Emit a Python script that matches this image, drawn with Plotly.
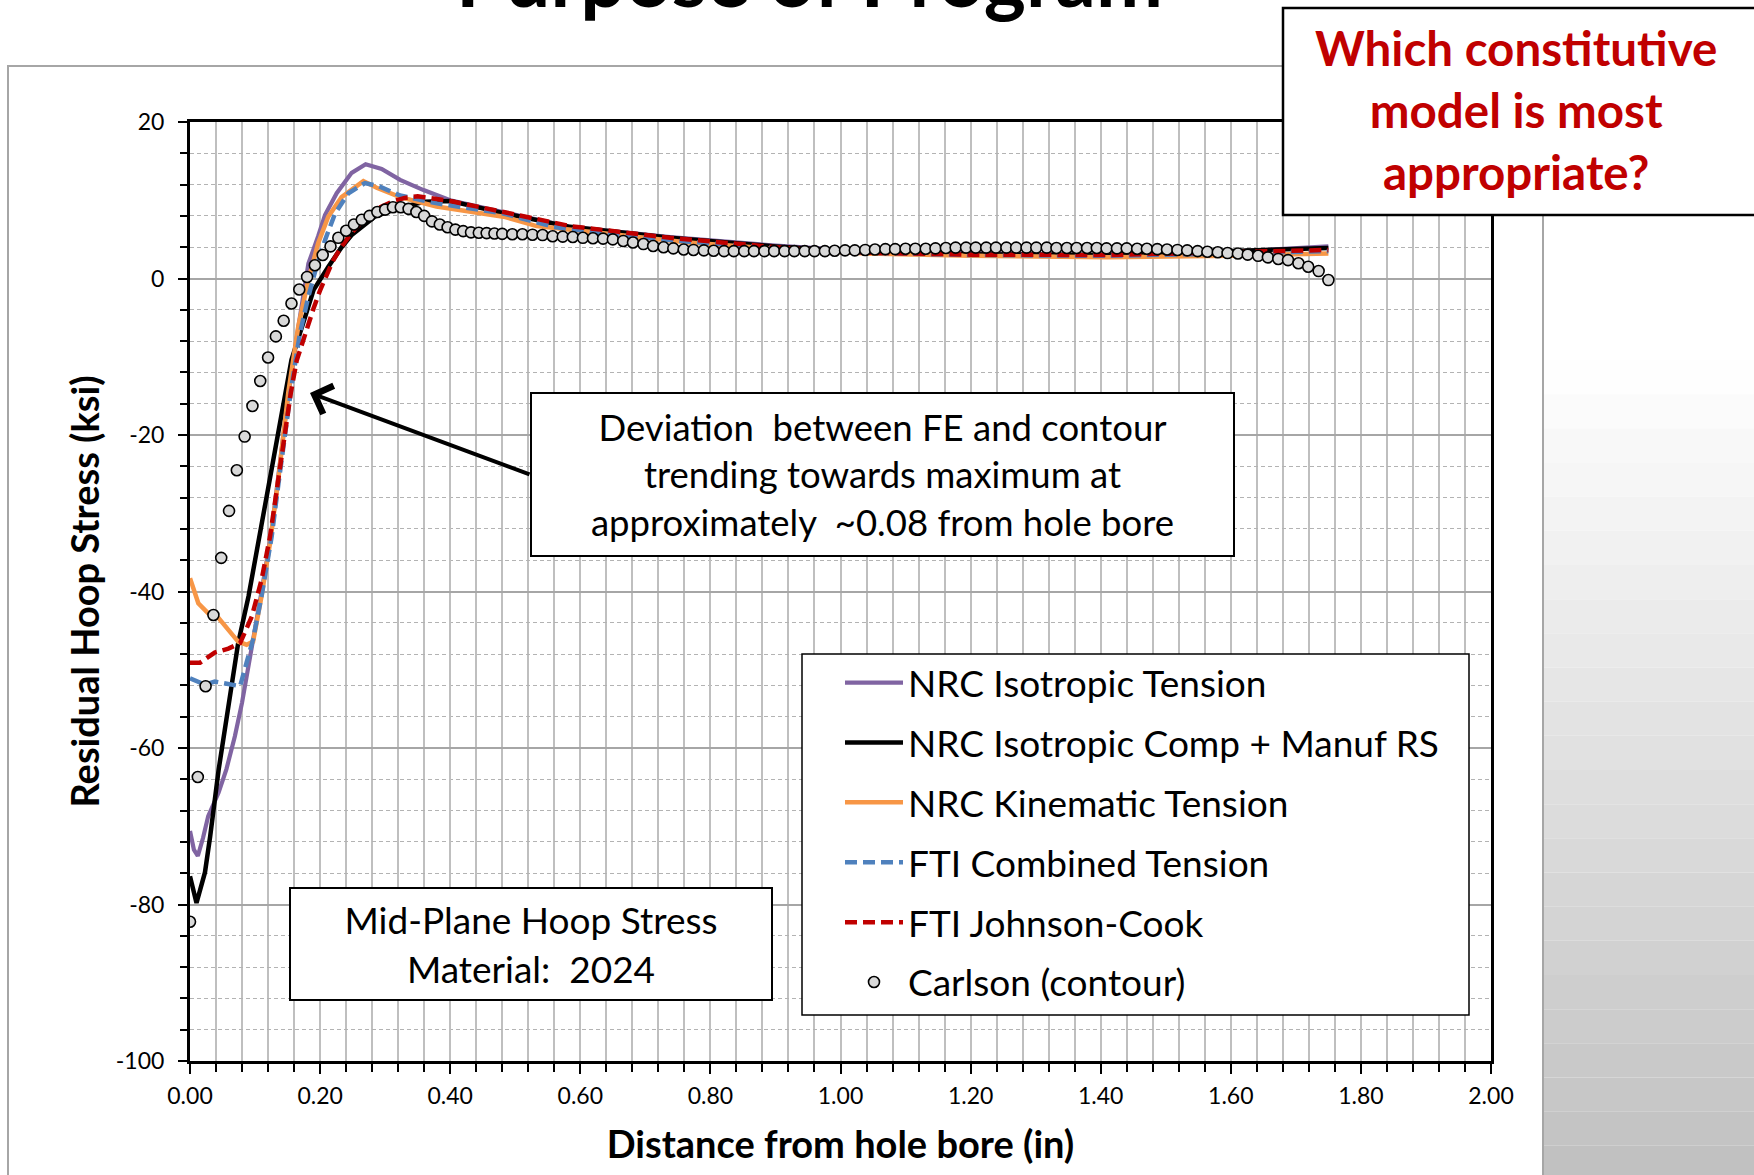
import plotly.graph_objects as go

# ---------------- DATA ----------------
carlson_x = [0.000, 0.012, 0.024, 0.036, 0.048, 0.060, 0.072, 0.084, 0.096, 0.108,
             0.120, 0.132, 0.144, 0.156, 0.168, 0.180, 0.192, 0.204, 0.216, 0.228,
             0.240, 0.252, 0.264, 0.276, 0.288, 0.300, 0.312, 0.324, 0.336, 0.348,
             0.360, 0.372, 0.384, 0.396, 0.408, 0.420, 0.432, 0.444, 0.456, 0.468,
             0.480, 0.4955, 0.511, 0.5265, 0.542, 0.5575, 0.573, 0.5885, 0.604, 0.6195,
             0.635, 0.650, 0.666, 0.681, 0.697, 0.712, 0.728, 0.743, 0.759, 0.774,
             0.790, 0.805, 0.821, 0.836, 0.852, 0.867, 0.883, 0.898, 0.914, 0.929,
             0.945, 0.960, 0.976, 0.991, 1.007, 1.022, 1.038, 1.053, 1.069, 1.084,
             1.100, 1.115, 1.131, 1.146, 1.162, 1.177, 1.193, 1.208, 1.224, 1.239,
             1.255, 1.270, 1.286, 1.301, 1.317, 1.332, 1.348, 1.363, 1.379, 1.394,
             1.409, 1.425, 1.440, 1.456, 1.471, 1.487, 1.502, 1.518, 1.533, 1.549,
             1.564, 1.580, 1.595, 1.611, 1.626, 1.642, 1.657, 1.673, 1.688, 1.704,
             1.719, 1.735, 1.750]
carlson_y = [-82.2, -63.7, -52.1, -43.0, -35.7, -29.7, -24.5, -20.2, -16.3, -13.1,
             -10.1, -7.4, -5.4, -3.2, -1.4, 0.2, 1.7, 3.0, 4.1, 5.2,
             6.1, 6.9, 7.5, 8.0, 8.5, 8.8, 9.1, 9.1, 8.9, 8.5,
             8.0, 7.3, 6.9, 6.55, 6.25, 6.05, 5.9, 5.85, 5.8, 5.75,
             5.7, 5.65, 5.65, 5.6, 5.55, 5.4, 5.35, 5.3, 5.2, 5.15,
             5.1, 5.0, 4.8, 4.6, 4.4, 4.15, 4.0, 3.85, 3.7, 3.65,
             3.6, 3.55, 3.5, 3.5, 3.5, 3.5, 3.5, 3.5, 3.5, 3.5,
             3.5, 3.5, 3.5, 3.55, 3.6, 3.6, 3.65, 3.7, 3.75, 3.75,
             3.8, 3.8, 3.8, 3.85, 3.9, 3.95, 3.95, 3.95, 3.95, 3.95,
             3.95, 3.95, 3.95, 3.95, 3.95, 3.9, 3.9, 3.9, 3.9, 3.9,
             3.85, 3.85, 3.85, 3.8, 3.8, 3.75, 3.7, 3.65, 3.6, 3.5,
             3.42, 3.35, 3.25, 3.2, 3.05, 2.9, 2.7, 2.5, 2.35, 1.95,
             1.5, 0.95, -0.2]

iso_tension_x = [0.000, 0.006, 0.012, 0.020, 0.028, 0.044, 0.056, 0.069, 0.080, 0.095,
                 0.110, 0.125, 0.136, 0.151, 0.166, 0.182, 0.197, 0.2075, 0.2255, 0.2485,
                 0.270, 0.2946, 0.323, 0.359, 0.400, 0.482, 0.584, 0.738, 0.900, 1.000,
                 1.200, 1.400, 1.600, 1.750]
iso_tension_y = [-70.6, -73.0, -73.8, -71.5, -68.7, -65.7, -62.7, -58.5, -54.2, -47.4,
                 -40.0, -32.5, -25.0, -15.0, -6.5, 1.9, 5.4, 8.1, 10.9, 13.5,
                 14.6, 14.0, 12.6, 11.3, 10.0, 8.5, 6.6, 5.3, 4.2, 3.7,
                 3.2, 3.0, 3.4, 4.1]

iso_comp_x = [0.000, 0.010, 0.023, 0.031, 0.044, 0.059, 0.074, 0.090, 0.105, 0.123,
              0.141, 0.156, 0.174, 0.190, 0.2127, 0.233, 0.2485, 0.284, 0.320, 0.360,
              0.400, 0.482, 0.584, 0.738, 0.900, 1.040, 1.180, 1.400, 1.600, 1.750]
iso_comp_y = [-76.4, -79.8, -75.9, -71.3, -62.8, -54.2, -46.6, -40.6, -33.8, -25.7,
              -16.8, -10.4, -5.7, -1.45, 1.5, 4.0, 5.55, 7.9, 9.0, 9.8,
              9.9, 8.35, 6.6, 5.2, 4.1, 3.4, 3.1, 3.0, 3.5, 3.9]

kinematic_x = [0.000, 0.0128, 0.028, 0.044, 0.059, 0.074, 0.087, 0.097, 0.110, 0.123,
               0.136, 0.151, 0.1665, 0.182, 0.197, 0.2125, 0.233, 0.2665, 0.287, 0.323,
               0.379, 0.482, 0.533, 0.628, 0.766, 0.900, 1.040, 1.200, 1.410, 1.600,
               1.750]
kinematic_y = [-38.3, -41.5, -42.8, -43.4, -44.9, -46.4, -46.8, -46.4, -40.6, -33.8,
               -25.5, -14.6, -6.1, -0.2, 4.5, 7.9, 10.4, 12.45, 11.6, 10.4,
               9.2, 7.9, 6.7, 5.9, 4.6, 3.8, 3.2, 2.9, 2.7, 2.9,
               3.2]

combined_x = [0.000, 0.023, 0.038, 0.059, 0.077, 0.087, 0.097, 0.110, 0.1255, 0.136,
              0.156, 0.169, 0.182, 0.195, 0.2075, 0.223, 0.2435, 0.269, 0.290, 0.323,
              0.380, 0.482, 0.559, 0.650, 0.766, 0.900, 1.040, 1.200, 1.410, 1.600,
              1.750]
combined_y = [-51.1, -51.9, -51.5, -51.9, -52.1, -49.1, -46.1, -40.6, -33.0, -26.2,
              -13.8, -7.0, -2.3, 1.7, 4.9, 8.3, 10.9, 12.2, 11.8, 10.6,
              9.6, 8.3, 6.6, 5.6, 4.7, 3.9, 3.3, 3.0, 2.9, 3.2,
              3.5]

johnson_x = [0.000, 0.0154, 0.038, 0.059, 0.077, 0.095, 0.110, 0.123, 0.138, 0.155,
             0.164, 0.177, 0.190, 0.200, 0.210, 0.220, 0.233, 0.250, 0.270, 0.290,
             0.310, 0.330, 0.350, 0.380, 0.400, 0.482, 0.584, 0.738, 0.900, 1.040,
             1.200, 1.410, 1.600, 1.750]
johnson_y = [-49.1, -49.1, -47.8, -47.3, -46.6, -43.2, -38.5, -33.0, -24.4, -14.6,
             -10.5, -7.0, -3.8, -1.5, 0.5, 2.3, 4.1, 6.0, 7.8, 9.0,
             9.8, 10.3, 10.5, 10.2, 9.9, 8.5, 6.7, 5.2, 4.0, 3.3,
             3.05, 3.0, 3.3, 3.65]

series_names = ["NRC Isotropic Tension", "NRC Isotropic Comp + Manuf RS",
                "NRC Kinematic Tension", "FTI Combined Tension",
                "FTI Johnson-Cook", "Carlson (contour)"]

x_tick_vals = [0.0, 0.2, 0.4, 0.6, 0.8, 1.0, 1.2, 1.4, 1.6, 1.8, 2.0]
y_tick_vals = [-100, -80, -60, -40, -20, 0, 20]
y_tick_text = ["-100", "-80", "-60", "-40", "-20", "0", "20"]

# ---------------- LAYOUT HELPERS ----------------
W, H = 1754, 1175
L, R, T, B = 190, 1491, 122, 1061


def px(X):
    return (X - L) / (R - L)


def py(Y):
    return (B - Y) / (B - T)


FONT = "Lato"

fig = go.Figure()

line_specs = [
    (iso_tension_x, iso_tension_y, "#8064A2", "solid", 4.2),
    (iso_comp_x, iso_comp_y, "#000000", "solid", 4.5),
    (kinematic_x, kinematic_y, "#F79646", "solid", 4.5),
    (combined_x, combined_y, "#4F81BD", "12px,6px", 4.5),
    (johnson_x, johnson_y, "#C00000", "12px,6px", 4.5),
]
for i, (xs, ys, col, dash, w) in enumerate(line_specs):
    fig.add_trace(go.Scatter(
        x=xs, y=ys, mode="lines", name=series_names[i], legendgroup=str(i),
        line=dict(color=col, width=w, dash=dash),
    ))

fig.add_trace(go.Scatter(
    x=carlson_x, y=carlson_y, mode="markers", name=series_names[5], legendgroup="5",
    marker=dict(symbol="circle", size=11, color="#D9D9D9",
                line=dict(color="#000000", width=1.6)),
))

shapes = []
# slide background gradient on the right
n_bands = 24
for i in range(n_bands):
    y0 = 360 + i * (1180 - 360) / n_bands
    y1 = 360 + (i + 1) * (1180 - 360) / n_bands
    g = int(round(255 - (255 - 192) * (i + 0.5) / n_bands))
    shapes.append(dict(type="rect", xref="paper", yref="paper", layer="below",
                       x0=px(1544), x1=px(1770), y0=py(y1), y1=py(y0),
                       line=dict(width=0), fillcolor=f"rgb({g},{g},{g})"))
# chart frame
shapes.append(dict(type="rect", xref="paper", yref="paper", layer="below",
                   x0=px(8), x1=px(1543), y0=py(1200), y1=py(66),
                   line=dict(color="#a6a6a6", width=2), fillcolor="white"))
# legend box
shapes.append(dict(type="rect", xref="paper", yref="paper", layer="above",
                   x0=px(802), x1=px(1469), y0=py(1015), y1=py(654),
                   line=dict(color="#000000", width=1.5), fillcolor="white"))
# question box
shapes.append(dict(type="rect", xref="paper", yref="paper", layer="above",
                   x0=px(1283), x1=px(1775), y0=py(215), y1=py(8),
                   line=dict(color="#000000", width=2.5), fillcolor="white"))

annotations = [
    dict(text="<b>Purpose of Program</b>", xref="paper", yref="paper",
         x=px(809), y=py(26), xanchor="center", yanchor="bottom", showarrow=False,
         font=dict(family=FONT, size=80, color="black")),
    dict(text="<b>Which constitutive<br>model is most<br>appropriate?</b>",
         xref="paper", yref="paper", x=px(1516), y=py(109.5), xanchor="center",
         yanchor="middle", showarrow=False, align="center",
         font=dict(family=FONT, size=47.5, color="#C00000")),
    dict(text="Deviation  between FE and contour<br>trending towards maximum at<br>"
              "approximately  ~0.08 from hole bore",
         xref="paper", yref="paper", x=px(882.5), y=py(476.5), xanchor="center",
         yanchor="middle", showarrow=False, align="center",
         width=701, height=161, bgcolor="white", bordercolor="black",
         borderwidth=2, borderpad=0, yshift=2,
         font=dict(family=FONT, size=36.5, color="black")),
    dict(text="Mid-Plane Hoop Stress<br>Material:  2024",
         xref="paper", yref="paper", x=px(531), y=py(944), xanchor="center",
         yanchor="middle", showarrow=False, align="center",
         width=480, height=110, bgcolor="white", bordercolor="black",
         borderwidth=2, borderpad=0,
         font=dict(family=FONT, size=37, color="black")),
    dict(text="", xref="paper", yref="paper", x=px(310), y=py(393),
         ax=221, ay=82, showarrow=True, arrowhead=4, arrowsize=1.45,
         arrowwidth=4, arrowcolor="black", standoff=0, startstandoff=0),
]

fig.update_layout(
    width=W, height=H,
    margin=dict(l=L, r=W - R, t=T, b=H - B, pad=0),
    paper_bgcolor="white", plot_bgcolor="white",
    font=dict(family=FONT, color="black"),
    showlegend=True,
    legend=dict(x=px(840), y=py(652), xanchor="left", yanchor="top",
                bgcolor="rgba(0,0,0,0)", borderwidth=0, itemwidth=58,
                traceorder="grouped", tracegroupgap=8.8,
                font=dict(family=FONT, size=37, color="black")),
    shapes=shapes,
    annotations=annotations,
)

fig.update_xaxes(
    range=[0, 2], tickvals=x_tick_vals, tickformat=".2f",
    showline=True, linecolor="black", linewidth=3, mirror=True,
    ticks="outside", ticklen=10, tickwidth=1.5, tickcolor="black",
    showgrid=True, gridcolor="#bfbfbf", gridwidth=1.5, zeroline=False,
    tickfont=dict(family=FONT, size=23, color="black"), ticklabelstandoff=2,
    minor=dict(dtick=0.04, tick0=0, ticks="outside", ticklen=8, tickwidth=1.5,
               tickcolor="black", showgrid=True, gridcolor="#bfbfbf", gridwidth=1.5),
    title=dict(text="Distance from hole bore (in)", standoff=24,
               font=dict(family=FONT, size=38, color="black", weight=700)),
)
fig.update_yaxes(
    range=[-100, 20], tickvals=y_tick_vals, ticktext=y_tick_text,
    showline=True, linecolor="black", linewidth=3, mirror=True,
    ticks="outside", ticklen=9, tickwidth=1.5, tickcolor="black",
    showgrid=True, gridcolor="#a6a6a6", gridwidth=1.5, zeroline=False,
    tickfont=dict(family=FONT, size=23, color="black"), ticklabelstandoff=9,
    minor=dict(dtick=4, tick0=0, ticks="outside", ticklen=7, tickwidth=1.5,
               tickcolor="black", showgrid=True, gridcolor="#b3b3b3", gridwidth=1.2,
               griddash="4px,3px"),
    title=dict(text="Residual Hoop Stress (ksi)", standoff=5,
               font=dict(family=FONT, size=38, color="black", weight=700)),
)

fig.write_html("out.html")
